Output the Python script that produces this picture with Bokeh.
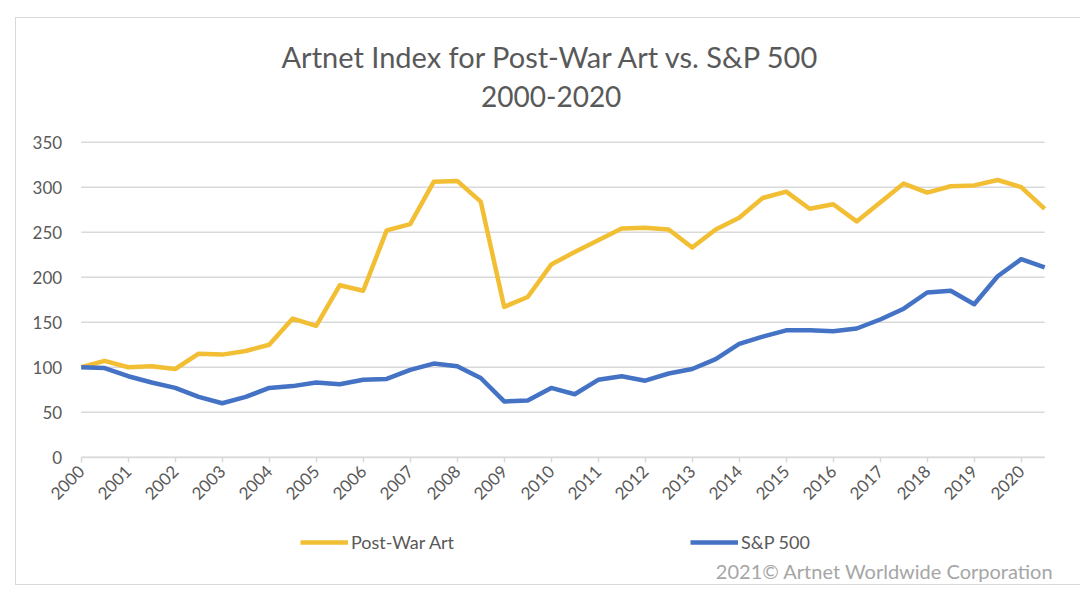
import math
from bokeh.plotting import figure
from bokeh.models import (Range1d, FixedTicker, Legend, LegendItem, Label)
from bokeh.embed import file_html
from bokeh.resources import INLINE

# ---- data ----
periods = [2000.0, 2000.5, 2001.0, 2001.5, 2002.0, 2002.5, 2003.0, 2003.5, 2004.0, 2004.5,
           2005.0, 2005.5, 2006.0, 2006.5, 2007.0, 2007.5, 2008.0, 2008.5, 2009.0, 2009.5,
           2010.0, 2010.5, 2011.0, 2011.5, 2012.0, 2012.5, 2013.0, 2013.5, 2014.0, 2014.5,
           2015.0, 2015.5, 2016.0, 2016.5, 2017.0, 2017.5, 2018.0, 2018.5, 2019.0, 2019.5,
           2020.0, 2020.5]
post_war_art = [100, 107, 100, 101, 98, 115, 114, 118, 125, 154,
                146, 191, 185, 252, 259, 306, 307, 284, 167, 178,
                214, 228, 241, 254, 255, 253, 233, 253, 266, 288,
                295, 276, 281, 262, 283, 304, 294, 301, 302, 308,
                300, 276]
sp500 = [100, 99, 90, 83, 77, 67, 60, 67, 77, 79,
         83, 81, 86, 87, 97, 104, 101, 88, 62, 63,
         77, 70, 86, 90, 85, 93, 98, 109, 126, 134,
         141, 141, 140, 143, 153, 165, 183, 185, 170, 201,
         220, 211]
year_ticks = [2000, 2001, 2002, 2003, 2004, 2005, 2006, 2007, 2008, 2009, 2010,
              2011, 2012, 2013, 2014, 2015, 2016, 2017, 2018, 2019, 2020]
value_ticks = [0, 50, 100, 150, 200, 250, 300, 350]
title_line1 = "Artnet Index for Post-War Art vs. S&P 500"
title_line2 = "2000-2020"
series_names = ["Post-War Art", "S&P 500"]
credit = "2021\u00a9 Artnet Worldwide Corporation"

FONT = "Lato"
GOLD = "#F2BE33"
BLUE = "#4472C4"
GRID = "#D9D9D9"
TXT = "#595959"

x0, x1 = periods[0], periods[-1]

# The frame covers the whole chart box; axes are pinned at 2000 / 0 so that
# titles, legend and credit can sit inside the (clipping) frame.
p = figure(width=1064, height=566, output_backend="svg", toolbar_location=None,
           x_range=Range1d(1998.6234, 2021.2617), y_range=Range1d(-141.4, 487.4),
           min_border_left=0, min_border_right=0, min_border_top=0, min_border_bottom=0,
           margin=(18, 0, 0, 16),
           styles={"outline": "1.5px solid #D9D9D9"})
p.title = None
p.outline_line_color = None
p.background_fill_color = "white"
p.border_fill_color = "white"
p.xgrid.visible = False
p.ygrid.visible = False

# horizontal gridlines at the value ticks, spanning the category extent
p.segment(x0=[x0] * len(value_ticks), x1=[x1] * len(value_ticks),
          y0=value_ticks, y1=value_ticks, line_color=GRID, line_width=1.5)

r1 = p.line(periods, post_war_art, line_color=GOLD, line_width=4.5, line_join="round")
r2 = p.line(periods, sp500, line_color=BLUE, line_width=4.5, line_join="round")

# y axis pinned at the first period
p.yaxis.fixed_location = x0
p.yaxis.ticker = FixedTicker(ticks=value_ticks)
p.yaxis.axis_line_color = None
p.yaxis.major_tick_line_color = None
p.yaxis.minor_tick_line_color = None
p.yaxis.major_label_text_font = FONT
p.yaxis.major_label_text_font_size = "17px"
p.yaxis.major_label_text_color = TXT
p.yaxis.major_label_standoff = 13

# x axis pinned at value 0
p.xaxis.fixed_location = 0
p.xaxis.bounds = (x0, x1)
p.xaxis.ticker = FixedTicker(ticks=year_ticks)
p.xaxis.axis_line_color = GRID
p.xaxis.axis_line_width = 1.5
p.xaxis.major_tick_line_color = GRID
p.xaxis.major_tick_line_width = 1.5
p.xaxis.major_tick_out = 5
p.xaxis.major_tick_in = 0
p.xaxis.minor_tick_line_color = None
p.xaxis.major_label_orientation = math.pi / 4
p.xaxis.major_label_text_font = FONT
p.xaxis.major_label_text_font_size = "17px"
p.xaxis.major_label_text_color = TXT
p.xaxis.major_label_standoff = 6

# two-line title
p.add_layout(Label(x=2010, y=445.2, text=title_line1, text_align="center",
                   text_baseline="middle", text_font=FONT, text_font_size="29px",
                   text_color=TXT))
p.add_layout(Label(x=2010, y=400.8, text=title_line2, text_align="center",
                   text_baseline="middle", text_font=FONT, text_font_size="28px",
                   text_color=TXT))

# legend
legend = Legend(items=[LegendItem(label=series_names[0], renderers=[r1]),
                       LegendItem(label=series_names[1], renderers=[r2])],
                orientation="horizontal", location=(284, 31),
                label_text_font=FONT, label_text_font_size="18px", label_text_color=TXT,
                glyph_width=48, glyph_height=20, label_standoff=3, spacing=236,
                border_line_color=None, background_fill_alpha=0, padding=0, margin=0)
p.add_layout(legend, "center")

# credit
p.add_layout(Label(x=2020.687, y=-125.9, text=credit, text_align="right",
                   text_baseline="middle", text_font=FONT, text_font_size="20px",
                   text_color="#A6A6A6"))

open("out.html", "w").write(file_html(p, INLINE))
